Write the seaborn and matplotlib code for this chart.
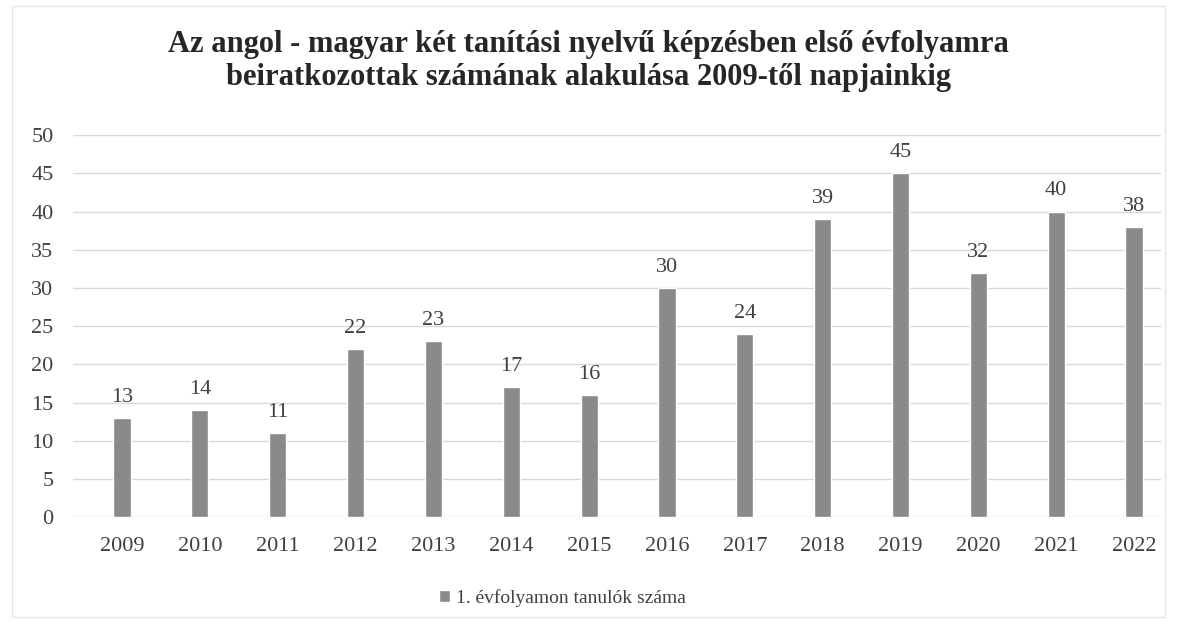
import pandas as pd
import numpy as np
import matplotlib.pyplot as plt
import seaborn as sns

years = ['2009', '2010', '2011', '2012', '2013', '2014', '2015',
         '2016', '2017', '2018', '2019', '2020', '2021', '2022']
students = [13, 14, 11, 22, 23, 17, 16, 30, 24, 39, 45, 32, 40, 38]
series_name = '1. évfolyamon tanulók száma'

df = pd.DataFrame({'year': years, 'students': students})

sns.set_style('white')
plt.rcParams['font.family'] = ['Liberation Serif', 'DejaVu Serif']

fig = plt.figure(figsize=(11.77, 6.23), dpi=100)
ax = fig.add_axes([0.062, 0.170, 0.924, 0.613])

sns.barplot(x='year', y='students', data=df, color='#8a8a8a', saturation=1,
            width=0.22, ax=ax, label=series_name)

ax.bar_label(ax.containers[0], padding=8, fontsize=16, color='#404040')

ax.set_ylim(0, 50)
ax.set_yticks(np.arange(0, 51, 5))
ax.set_xlim(-0.63, 13.34)
ax.yaxis.grid(True, color='#d9d9d9', lw=1)
ax.set_axisbelow(True)
for s in ax.spines.values():
    s.set_visible(False)
ax.tick_params(axis='both', length=0, labelsize=16, labelcolor='#404040')
ax.tick_params(axis='y', pad=14)
ax.tick_params(axis='x', pad=14)
ax.set_xlabel('')
ax.set_ylabel('')

fig.suptitle('Az angol - magyar két tanítási nyelvű képzésben első évfolyamra\n'
             'beiratkozottak számának alakulása 2009-től napjainkig',
             x=0.5, y=0.902, va='center', fontsize=22, fontweight='bold',
             color='#262626', linespacing=1.2)

ax.legend(loc='center', bbox_to_anchor=(0.45, -0.212), frameon=False,
          fontsize=14, handlelength=0.6, handleheight=0.6, handletextpad=0.3,
          labelcolor='#404040')

fig.patches.append(plt.Rectangle((0.01, 0.01), 0.98, 0.98, transform=fig.transFigure,
                                 fill=False, edgecolor='#e6e6e6', lw=1))

plt.savefig('out.png', dpi=100)
